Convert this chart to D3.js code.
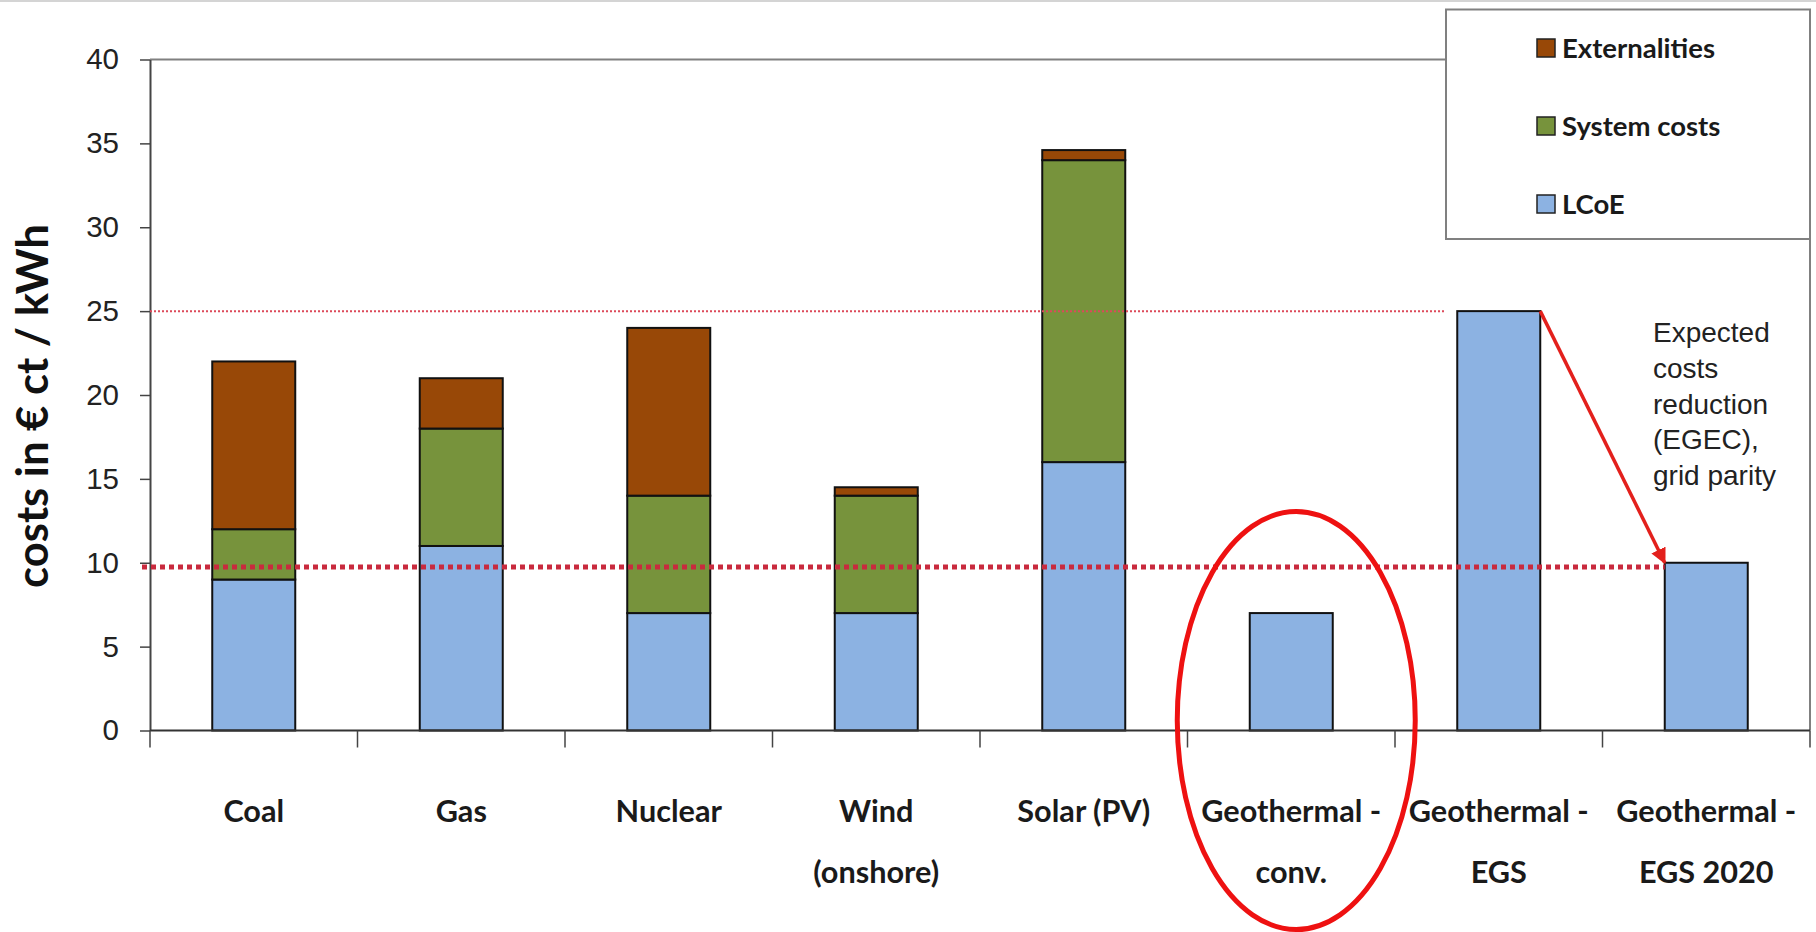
<!DOCTYPE html>
<html>
<head>
<meta charset="utf-8">
<script src="https://cdn.jsdelivr.net/npm/d3@7"></script>
<style>
  html, body { margin: 0; padding: 0; background: #fff; }
  svg { display: block; }
</style>
</head>
<body>
<svg id="chart" width="1816" height="932"></svg>
<script>
// ---------- data ----------
const categories = ["Coal", "Gas", "Nuclear", "Wind (onshore)", "Solar (PV)",
  "Geothermal - conv.", "Geothermal - EGS", "Geothermal - EGS 2020"];
const labelLine1 = ["Coal", "Gas", "Nuclear", "Wind", "Solar (PV)",
  "Geothermal -", "Geothermal -", "Geothermal -"];
const labelLine2 = ["", "", "", "(onshore)", "", "conv.", "EGS", "EGS 2020"];
const lcoe          = [9, 11, 7, 7, 16, 7, 25, 10];
const systemCosts   = [3, 7, 7, 7, 18, 0, 0, 0];
const externalities = [10, 3, 10, 0.5, 0.6, 0, 0, 0];
const seriesNames = ["LCoE", "System costs", "Externalities"];
const legendOrder = ["Externalities", "System costs", "LCoE"];
const yTicks = [0, 5, 10, 15, 20, 25, 30, 35, 40];
const refHigh = 25;
const refLow = 9.75;
const arrowFrom = { cat: "Geothermal - EGS", value: 25 };
const arrowTo = { cat: "Geothermal - EGS 2020", value: 10 };
const noteLines = ["Expected", "costs", "reduction", "(EGEC),", "grid parity"];
const yTitle = "costs in € ct / kWh";
const highlightCat = "Geothermal - conv.";

// ---------- styles ----------
const colors = { "LCoE": "#8cb2e2", "System costs": "#77933c", "Externalities": "#984807" };
const boldFont = "Lato, Carlito, Calibri, 'Open Sans', sans-serif";
const arialFont = "'Liberation Sans', Arial, sans-serif";

const svg = d3.select("#chart");

// ---------- scales ----------
const x = d3.scaleBand().domain(categories).range([150, 1810])
  .paddingInner(0.6).paddingOuter(0.3);
const y = d3.scaleLinear().domain([0, 40]).range([730.5, 59.5]);
const bw = x.bandwidth();
const step = x.step();

// font fitting helper
function fitSize(text, family, weight, target) {
  const t = svg.append("text").attr("font-family", family).attr("font-weight", weight)
    .attr("font-size", 100).text(text);
  const len = t.node().getComputedTextLength();
  t.remove();
  return 100 * target / len;
}
const catSize = fitSize("Geothermal -", boldFont, "bold", 180);
const legSize = fitSize("Externalities", boldFont, "bold", 153);
const titleSize = fitSize(yTitle, boldFont, "bold", 364);

// top light border of picture
svg.append("line").attr("x1", 0).attr("x2", 1816).attr("y1", 1).attr("y2", 1)
  .attr("stroke", "#d4d4d4").attr("stroke-width", 2);

// plot frame (top + right)
svg.append("path")
  .attr("d", `M${x.range()[0]},${y(40)}H${x.range()[1]}V${y(0)}`)
  .attr("fill", "none").attr("stroke", "#808080").attr("stroke-width", 2);

// ---------- bars ----------
const rows = categories.map((c, i) => ({
  cat: c, "LCoE": lcoe[i], "System costs": systemCosts[i], "Externalities": externalities[i]
}));
const stacked = d3.stack().keys(seriesNames)(rows);
svg.append("g").selectAll("g").data(stacked).join("g")
  .attr("fill", d => colors[d.key])
  .selectAll("rect").data(d => d.filter(s => s[1] - s[0] > 0)).join("rect")
  .attr("x", d => x(d.data.cat))
  .attr("width", bw)
  .attr("y", d => y(d[1]))
  .attr("height", d => y(d[0]) - y(d[1]))
  .attr("stroke", "#111").attr("stroke-width", 2);

// ---------- y axis ----------
const yAxis = svg.append("g").attr("transform", `translate(${x.range()[0]},0)`)
  .call(d3.axisLeft(y).tickValues(yTicks).tickSize(10).tickSizeOuter(0).tickPadding(21));
yAxis.select(".domain").attr("stroke", "#444").attr("stroke-width", 2);
yAxis.selectAll(".tick line").attr("stroke", "#444").attr("stroke-width", 1.5);
yAxis.selectAll(".tick text").attr("font-family", arialFont).attr("font-size", 29.5)
  .attr("fill", "#222");

// ---------- x axis ----------
const xg = svg.append("g");
xg.append("line").attr("x1", x.range()[0]).attr("x2", x.range()[1])
  .attr("y1", y(0)).attr("y2", y(0)).attr("stroke", "#333").attr("stroke-width", 2);
const boundaries = d3.range(categories.length + 1).map(i => x.range()[0] + i * step);
xg.selectAll(".bt").data(boundaries).join("line")
  .attr("x1", d => d).attr("x2", d => d)
  .attr("y1", y(0)).attr("y2", y(0) + 17)
  .attr("stroke", "#444").attr("stroke-width", 1.5);
const labels = xg.selectAll(".lab").data(categories).join("text")
  .attr("text-anchor", "middle")
  .attr("font-family", boldFont).attr("font-weight", "bold")
  .attr("font-size", catSize).attr("fill", "#1a1a1a");
labels.append("tspan").attr("x", d => x(d) + bw / 2).attr("y", 822)
  .text((d, i) => labelLine1[i]);
labels.append("tspan").attr("x", d => x(d) + bw / 2).attr("y", 883)
  .text((d, i) => labelLine2[i]);

// ---------- y title ----------
svg.append("text")
  .attr("transform", `translate(48,406) rotate(-90)`)
  .attr("text-anchor", "middle")
  .attr("font-family", boldFont).attr("font-weight", "bold")
  .attr("font-size", titleSize).attr("fill", "#111")
  .text(yTitle);

// ---------- reference lines ----------
svg.append("line")
  .attr("x1", x.range()[0]).attr("x2", x(arrowFrom.cat) - 12)
  .attr("y1", y(refHigh)).attr("y2", y(refHigh))
  .attr("stroke", "#dc4a5a").attr("stroke-width", 2).attr("stroke-dasharray", "2,2");
svg.append("line")
  .attr("x1", x.range()[0] - 8).attr("x2", x(arrowTo.cat))
  .attr("y1", y(refLow)).attr("y2", y(refLow))
  .attr("stroke", "#c92a3e").attr("stroke-width", 5).attr("stroke-dasharray", "5,4");

// ---------- arrow ----------
svg.append("defs").append("marker")
  .attr("id", "ah").attr("viewBox", "0 0 10 10").attr("refX", 9).attr("refY", 5)
  .attr("markerWidth", 4.5).attr("markerHeight", 4.5).attr("orient", "auto")
  .append("path").attr("d", "M0,0L10,5L0,10z").attr("fill", "#e3201c");
svg.append("line")
  .attr("x1", x(arrowFrom.cat) + bw).attr("y1", y(arrowFrom.value))
  .attr("x2", x(arrowTo.cat)).attr("y2", y(arrowTo.value))
  .attr("stroke", "#e3201c").attr("stroke-width", 3.5).attr("marker-end", "url(#ah)");

// annotation text
const note = svg.append("text").attr("font-family", arialFont).attr("font-size", 28)
  .attr("fill", "#222");
note.selectAll("tspan").data(noteLines).join("tspan")
  .attr("x", 1653).attr("y", (d, i) => 342 + i * 35.8).text(d => d);

// ---------- legend ----------
const lg = svg.append("g");
lg.append("rect").attr("x", 1446).attr("y", 9.5).attr("width", 364).attr("height", 229.5)
  .attr("fill", "#fff").attr("stroke", "#808080").attr("stroke-width", 2);
const li = lg.selectAll(".li").data(legendOrder).join("g")
  .attr("transform", (d, i) => `translate(1537,${48 + i * 78})`);
li.append("rect").attr("x", 0).attr("y", -9).attr("width", 18).attr("height", 18)
  .attr("fill", d => colors[d]).attr("stroke", "#222").attr("stroke-width", 1.5);
li.append("text").attr("x", 25).attr("y", 0).attr("dy", "0.36em")
  .attr("font-family", boldFont).attr("font-weight", "bold")
  .attr("font-size", legSize).attr("fill", "#1a1a1a").text(d => d);

// ---------- highlight ellipse ----------
svg.append("ellipse")
  .attr("cx", x(highlightCat) + bw / 2 + 5).attr("cy", y(0) - 10)
  .attr("rx", 119).attr("ry", 209)
  .attr("fill", "none").attr("stroke", "#ee1111").attr("stroke-width", 5);
</script>
</body>
</html>
